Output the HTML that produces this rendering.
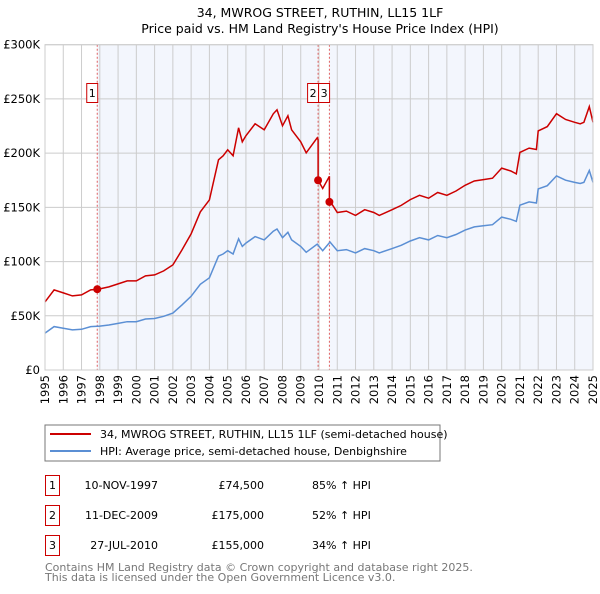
<!DOCTYPE html>
<html><head><meta charset="utf-8">
<style>
body{margin:0;background:#fff;font-family:"DejaVu Sans","Liberation Sans",sans-serif;}
svg text{font-family:"DejaVu Sans","Liberation Sans",sans-serif;}
</style></head>
<body>
<svg id="chart" width="600" height="590" xmlns="http://www.w3.org/2000/svg">
<text x="320" y="17" text-anchor="middle" font-size="12.5">34, MWROG STREET, RUTHIN, LL15 1LF</text>
<text x="320" y="33" text-anchor="middle" font-size="12.5">Price paid vs. HM Land Registry's House Price Index (HPI)</text>
<g id="plot"></g>
<rect x="45" y="425" width="395" height="36" fill="#fff" stroke="#777"/>
<line x1="50" y1="434" x2="91" y2="434" stroke="#cc0000" stroke-width="2"/>
<text x="100" y="438" font-size="11">34, MWROG STREET, RUTHIN, LL15 1LF (semi-detached house)</text>
<line x1="50" y1="451" x2="91" y2="451" stroke="#5b8fd4" stroke-width="2"/>
<text x="100" y="455" font-size="11">HPI: Average price, semi-detached house, Denbighshire</text>
<g font-size="11">
<rect x="45.5" y="475.5" width="14" height="20" fill="none" stroke="#cc0000"/>
<text x="52.5" y="489" text-anchor="middle">1</text>
<text x="158" y="489" text-anchor="end">10-NOV-1997</text>
<text x="264" y="489" text-anchor="end">£74,500</text>
<text x="312" y="489">85% ↑ HPI</text>
<rect x="45.5" y="505.5" width="14" height="20" fill="none" stroke="#cc0000"/>
<text x="52.5" y="519" text-anchor="middle">2</text>
<text x="158" y="519" text-anchor="end">11-DEC-2009</text>
<text x="264" y="519" text-anchor="end">£175,000</text>
<text x="312" y="519">52% ↑ HPI</text>
<rect x="45.5" y="535.5" width="14" height="20" fill="none" stroke="#cc0000"/>
<text x="52.5" y="549" text-anchor="middle">3</text>
<text x="158" y="549" text-anchor="end">27-JUL-2010</text>
<text x="264" y="549" text-anchor="end">£155,000</text>
<text x="312" y="549">34% ↑ HPI</text>
</g>
<text x="45" y="571" font-size="11" fill="#777">Contains HM Land Registry data © Crown copyright and database right 2025.</text>
<text x="45" y="581" font-size="11" fill="#777">This data is licensed under the Open Government Licence v3.0.</text>
</svg>
<script>
const hpiYears=[1995,1995.5,1996,1996.5,1997,1997.5,1998,1998.5,1999,1999.5,2000,2000.5,2001,2001.5,2002,2002.5,2003,2003.5,2004,2004.5,2004.75,2005,2005.3,2005.6,2005.8,2006,2006.5,2007,2007.5,2007.7,2008,2008.3,2008.5,2009,2009.3,2009.9,2010.2,2010.6,2011,2011.5,2012,2012.5,2013,2013.3,2014,2014.5,2015,2015.5,2016,2016.5,2017,2017.5,2018,2018.5,2019,2019.5,2020,2020.5,2020.8,2021,2021.5,2021.9,2022,2022.5,2023,2023.5,2024,2024.3,2024.5,2024.8,2025];
const hpiValues=[34,40,38.5,37,37.5,40,40.5,41.5,43,44.5,44.5,47,47.5,49.5,52.5,60,68,79,85,105,107,110,107,121,114,117,123,120,128,130,122,127,120,114,108.5,116,110,118,110,111,108,112,110,108,112,115,119,122,120,124,122,125,129,132,133,134,141,139,137,152,155,154,167,170,179,175,173,172,173,184,173];
const saleYears=[1997.86,2009.95,2010.57];
const salePrices=[74.5,175,155];
const saleLabels=["1","2","3"];
const yTicks=[0,50,100,150,200,250,300];
const yTickLabels=["£0","£50K","£100K","£150K","£200K","£250K","£300K"];
const xTicks=[1995,1996,1997,1998,1999,2000,2001,2002,2003,2004,2005,2006,2007,2008,2009,2010,2011,2012,2013,2014,2015,2016,2017,2018,2019,2020,2021,2022,2023,2024,2025];

const X0=45,X1=593,Y0=370,Y1=44.7;
const xs=y=>X0+(y-1995)/30*(X1-X0);
const ys=v=>Y0-v/300*(Y0-Y1);
const NS="http://www.w3.org/2000/svg";
const plot=document.getElementById('plot');
function mk(tag,attrs,parent){const e=document.createElementNS(NS,tag);for(const k in attrs)e.setAttribute(k,attrs[k]);(parent||plot).appendChild(e);return e;}
function hpiAt(t){for(let i=1;i<hpiYears.length;i++){if(t<=hpiYears[i]){const a=hpiYears[i-1],b=hpiYears[i];const f=(t-a)/(b-a);return hpiValues[i-1]+f*(hpiValues[i]-hpiValues[i-1]);}}return hpiValues[hpiValues.length-1];}

// shading
let sh=mk('rect',{x:xs(saleYears[0]),y:Y1,width:xs(saleYears[1])-xs(saleYears[0]),height:Y0-Y1,fill:'#f3f6fd'});


let sh2=mk('rect',{x:xs(saleYears[2]),y:Y1,width:X1-xs(saleYears[2]),height:Y0-Y1,fill:'#f3f6fd'});


// grid
xTicks.forEach(t=>{const l=mk('line',{x1:xs(t),x2:xs(t),y1:Y1,y2:Y0,stroke:'#ccc','stroke-width':1});


const tx=mk('text',{x:0,y:0,'font-size':11.5,'text-anchor':'end',transform:`translate(${xs(t)+4},${Y0+5}) rotate(-90)`});tx.textContent=t;

});
yTicks.forEach((t,i)=>{const l=mk('line',{x1:X0,x2:X1,y1:ys(t),y2:ys(t),stroke:'#ccc','stroke-width':1});


const tx=mk('text',{x:40,y:ys(t)+4,'font-size':11.5,'text-anchor':'end'});tx.textContent=yTickLabels[i];

});
// sale lines
saleYears.forEach((s,i)=>{const l=mk('line',{x1:xs(s),x2:xs(s),y1:Y1,y2:Y0,stroke:'#e06060','stroke-width':1,'stroke-dasharray':'2,2'});

});
// hpi line
let d='';hpiYears.forEach((t,i)=>{d+=(i?'L':'M')+xs(t).toFixed(1)+','+ys(hpiValues[i]).toFixed(1);});
const hl=mk('path',{d:d,fill:'none',stroke:'#5b8fd4','stroke-width':1.5});


// price line: HPI indexed from each sale
const ratios=saleYears.map((s,i)=>salePrices[i]/hpiAt(s));
function ratioAt(t){let r=ratios[0];saleYears.forEach((s,i)=>{if(t>=s)r=ratios[i];});return r;}
let pts=[];hpiYears.forEach((t,i)=>{pts.push([t,hpiValues[i]*ratioAt(t)]);});
saleYears.forEach((s,i)=>{pts.push([s-0.001,hpiAt(s)*(i?ratios[i-1]:ratios[0])]);pts.push([s,salePrices[i]]);});
pts.sort((a,b)=>a[0]-b[0]);
let d2='';pts.forEach((p,i)=>{d2+=(i?'L':'M')+xs(p[0]).toFixed(1)+','+ys(p[1]).toFixed(1);});
const pl=mk('path',{d:d2,fill:'none',stroke:'#cc0000','stroke-width':1.5});


// sale points & badges
saleYears.forEach((s,i)=>{const c=mk('circle',{cx:xs(s),cy:ys(salePrices[i]),r:4,fill:'#cc0000'});

});
const badgeX=[xs(saleYears[0])-11,xs(saleYears[1])-11,xs(saleYears[1])+0];
saleLabels.forEach((lab,i)=>{const g=mk('g',{});


mk('rect',{x:badgeX[i]+0.5,y:83.5,width:11,height:19,fill:'#fff',stroke:'#cc0000'},g);
const t=mk('text',{x:badgeX[i]+6,y:97,'font-size':11,'text-anchor':'middle'},g);t.textContent=lab;});
// axes border
const ax=mk('rect',{x:X0,y:Y1,width:X1-X0,height:Y0-Y1,fill:'none',stroke:'#ccc'});


</script>
</body></html>
